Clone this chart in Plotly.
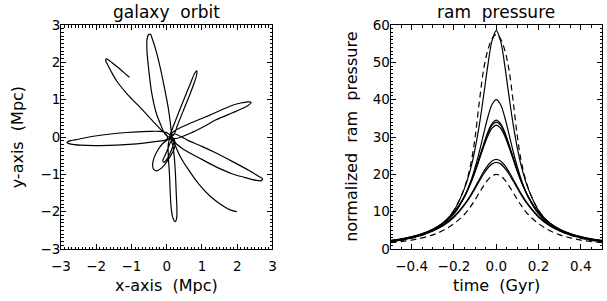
import plotly.graph_objects as go

# ---------------- data: galaxy orbit (Mpc) ----------------
orbit_x = [-1.06, -1.22, -1.38, -1.55, -1.66, -1.72, -1.73, -1.68, -1.58, -1.42, -1.14, -0.95, -0.76, -0.39, -0.15, 0.0,
           0.02, -0.05, -0.22, -0.95, -1.89, -2.45, -2.72, -2.83, -2.78, -2.5, -2.08, -1.14, -0.5, -0.2, 0.03, 0.1,
           0.04, -0.12, -0.26, -0.36, -0.40, -0.37, -0.29, -0.16, -0.02, 0.10, 0.20, 0.24, 0.20,
           0.12, 0.03, -0.06, -0.11, -0.08, 0.0, 0.09, 0.17, 0.21, 0.15,
           0.07, 0.04, 0.05, 0.08, 0.10, 0.13, 0.18, 0.24, 0.28, 0.29, 0.27, 0.25, 0.22, 0.18, 0.12,
           0.13, 0.23, 0.60, 1.00, 1.40, 1.87, 2.34, 2.60, 2.72, 2.68, 2.53, 2.2, 1.87, 1.40, 1.0, 0.46, 0.18,
           0.12, 0.27, 0.74, 1.10, 1.40, 1.87, 2.16, 2.33, 2.40, 2.34, 2.1, 1.87, 1.21, 0.80, 0.46, 0.2, 0.08,
           0.1, 0.2, 0.37, 0.55, 0.70, 0.79, 0.85, 0.85, 0.76, 0.62, 0.46, 0.30, 0.20,
           0.08, -0.05, -0.18, -0.30, -0.43, -0.51, -0.56, -0.56, -0.52, -0.46, -0.41, -0.30, -0.17, -0.05, 0.04, 0.10, 0.13, 0.15,
           0.22, 0.37, 0.62, 0.93, 1.25, 1.59, 1.82, 1.99]
orbit_y = [1.60, 1.73, 1.86, 1.99, 2.07, 2.09, 2.04, 1.94, 1.76, 1.50, 1.17, 0.98, 0.80, 0.42, 0.18, 0.05,
           -0.04, -0.09, -0.11, -0.19, -0.23, -0.22, -0.19, -0.15, -0.11, -0.06, 0.02, 0.12, 0.15, 0.15, 0.10, 0.02,
           -0.06, -0.18, -0.36, -0.56, -0.74, -0.87, -0.91, -0.84, -0.69, -0.52, -0.34, -0.18, -0.05,
           -0.12, -0.32, -0.52, -0.63, -0.68, -0.60, -0.44, -0.26, -0.10, 0.0,
           -0.08, -0.25, -0.60, -1.03, -1.50, -1.93, -2.18, -2.27, -2.18, -1.93, -1.50, -1.03, -0.60, -0.25, -0.06,
           0.04, 0.08, -0.09, -0.25, -0.43, -0.66, -0.90, -1.05, -1.12, -1.17, -1.16, -1.08, -0.99, -0.80, -0.60, -0.32, -0.10,
           -0.02, -0.04, 0.13, 0.30, 0.46, 0.65, 0.77, 0.86, 0.92, 0.94, 0.91, 0.85, 0.58, 0.42, 0.28, 0.15, 0.05,
           0.08, 0.32, 0.73, 1.15, 1.50, 1.70, 1.77, 1.66, 1.40, 1.05, 0.68, 0.30, 0.06,
           0.0, 0.08, 0.35, 0.65, 1.20, 1.80, 2.30, 2.60, 2.74, 2.75, 2.63, 2.30, 1.80, 1.25, 0.80, 0.40, 0.12, -0.05,
           -0.18, -0.50, -0.88, -1.28, -1.60, -1.84, -1.96, -2.00]

# ---------------- data: ram pressure ----------------
time_gyr = [-0.5, -0.45, -0.4, -0.35, -0.3, -0.25, -0.2, -0.15, -0.12, -0.1, -0.08, -0.06, -0.04, -0.02, 0.0,
            0.02, 0.04, 0.06, 0.08, 0.1, 0.12, 0.15, 0.2, 0.25, 0.3, 0.35, 0.4, 0.45, 0.5]

ram_solid_58 = [2.1, 2.5, 3.1, 3.9, 5.1, 7.0, 10.3, 16.3, 21.8, 26.9, 33.3, 41.0, 49.2, 55.8, 58.5,
                55.8, 49.2, 41.0, 33.3, 26.9, 21.8, 16.3, 10.3, 7.0, 5.1, 3.9, 3.1, 2.5, 2.1]
ram_dash_57 = [1.9, 2.3, 2.9, 3.7, 5.0, 7.0, 10.4, 16.5, 23.0, 30.0, 39.5, 48.0, 53.3, 56.3, 57.5,
               56.3, 53.3, 48.0, 39.5, 30.0, 23.0, 16.5, 10.4, 7.0, 5.0, 3.7, 2.9, 2.3, 1.9]
ram_solid_40 = [2.0, 2.4, 3.0, 3.8, 4.9, 6.6, 9.4, 14.1, 18.3, 21.9, 26.1, 30.8, 35.3, 38.7, 40.0,
                38.7, 35.3, 30.8, 26.1, 21.9, 18.3, 14.1, 9.4, 6.6, 4.9, 3.8, 3.0, 2.4, 2.0]
ram_solid_34a = [2.2, 2.6, 3.2, 4.0, 5.2, 7.0, 9.7, 14.1, 17.9, 21.0, 24.5, 28.0, 31.3, 33.6, 34.5,
                 33.6, 31.3, 28.0, 24.5, 21.0, 17.9, 14.1, 9.7, 7.0, 5.2, 4.0, 3.2, 2.6, 2.2]
ram_solid_34b = [2.25, 2.65, 3.25, 4.05, 5.25, 7.05, 9.75, 14.1, 17.9, 20.9, 24.3, 27.7, 30.9, 33.2, 34.0,
                 33.2, 30.9, 27.7, 24.3, 20.9, 17.9, 14.1, 9.75, 7.05, 5.25, 4.05, 3.25, 2.65, 2.25]
ram_solid_33 = [2.3, 2.7, 3.3, 4.1, 5.3, 7.1, 9.8, 14.1, 17.8, 20.7, 24.0, 27.3, 30.3, 32.4, 33.2,
                32.4, 30.3, 27.3, 24.0, 20.7, 17.8, 14.1, 9.8, 7.1, 5.3, 4.1, 3.3, 2.7, 2.3]
ram_solid_24 = [2.2, 2.6, 3.2, 3.9, 4.9, 6.4, 8.7, 12.0, 14.6, 16.6, 18.7, 20.7, 22.4, 23.6, 24.0,
                23.6, 22.4, 20.7, 18.7, 16.6, 14.6, 12.0, 8.7, 6.4, 4.9, 3.9, 3.2, 2.6, 2.2]
ram_solid_23 = [2.2, 2.6, 3.1, 3.85, 4.85, 6.3, 8.5, 11.8, 14.3, 16.2, 18.2, 20.1, 21.7, 22.8, 23.2,
                22.8, 21.7, 20.1, 18.2, 16.2, 14.3, 11.8, 8.5, 6.3, 4.85, 3.85, 3.1, 2.6, 2.2]
ram_dash_20 = [1.7, 2.0, 2.4, 3.0, 3.8, 5.0, 6.8, 9.3, 11.5, 13.2, 15.1, 16.9, 18.5, 19.6, 20.0,
               19.6, 18.5, 16.9, 15.1, 13.2, 11.5, 9.3, 6.8, 5.0, 3.8, 3.0, 2.4, 2.0, 1.7]

ram_series = [
    (ram_dash_57, "dash"), (ram_dash_20, "dash"),
    (ram_solid_58, "solid"), (ram_solid_40, "solid"), (ram_solid_34a, "solid"),
    (ram_solid_34b, "solid"), (ram_solid_33, "solid"), (ram_solid_24, "solid"), (ram_solid_23, "solid"),
]

FONT = "DejaVu Sans"

fig = go.Figure()
fig.add_trace(go.Scatter(x=orbit_x, y=orbit_y, mode="lines", xaxis="x", yaxis="y",
                         line=dict(color="black", width=1.2, shape="spline", smoothing=0.8),
                         showlegend=False, hoverinfo="skip"))
for vals, style in ram_series:
    fig.add_trace(go.Scatter(x=time_gyr, y=vals, mode="lines", xaxis="x2", yaxis="y2",
                             line=dict(color="black", width=1.2, shape="spline",
                                       dash=("6px,4px" if style == "dash" else "solid")),
                             showlegend=False, hoverinfo="skip"))


def ax(rng, dtick, mdtick, domain, anchor, **kw):
    d = dict(range=rng, dtick=dtick, tick0=0, domain=domain, anchor=anchor,
             showline=True, linecolor="black", linewidth=1, mirror="allticks",
             ticks="inside", ticklen=5, tickwidth=1, tickcolor="black",
             showgrid=False, zeroline=False, fixedrange=True,
             tickfont=dict(family=FONT, size=13.5, color="black"),
             minor=dict(ticks="inside", ticklen=2.5, dtick=mdtick, tick0=0,
                        tickcolor="black", tickwidth=1, showgrid=False))
    d.update(kw)
    return d


W, H = 607, 301
L, R, T, B = 61, 1, 25, 52
pw = W - L - R
ph = H - T - B
d1 = [0, (274 - L) / pw]
d2 = [(393 - L) / pw, 1.0]

fig.update_layout(
    width=W, height=H, margin=dict(l=L, r=R, t=T, b=B),
    paper_bgcolor="white", plot_bgcolor="white",
    font=dict(family=FONT, color="black"),
    xaxis=ax([-3, 3], 1, 0.1, d1, "y", ticklabelstandoff=5),
    yaxis=ax([-3, 3], 1, 0.1, [0, 1], "x", ticklabelstandoff=-3),
    xaxis2=ax([-0.5, 0.5], 0.2, 0.05, d2, "y2", ticklabelstandoff=5, tickformat=".1f"),
    yaxis2=ax([0, 60], 10, 1, [0, 1], "x2", ticklabelstandoff=-3),
)


def add_text(px, py, text, size, angle=0):
    # px, py: pixel position from the top-left corner of the figure
    fig.add_annotation(x=(px - L) / pw, y=(H - py - B) / ph, xref="paper", yref="paper",
                       xanchor="center", yanchor="middle", text=text, textangle=angle,
                       showarrow=False, font=dict(family=FONT, size=size, color="black"))


add_text(167.5, 12, "galaxy\u00a0\u00a0orbit", 17)
add_text(499.5, 12, "ram\u00a0\u00a0pressure", 17)
add_text(167.5, 285, "x-axis\u00a0\u00a0(Mpc)", 16)
add_text(499.5, 285, "time\u00a0\u00a0(Gyr)", 16)
add_text(17, 137, "y-axis\u00a0\u00a0(Mpc)", 16, -90)
add_text(353, 137, "normalized\u00a0\u00a0ram\u00a0\u00a0pressure", 16, -90)

fig.write_html("out.html", config={"displayModeBar": False, "staticPlot": True},
               post_script="document.body.style.margin='0';document.body.style.overflow='hidden';")
